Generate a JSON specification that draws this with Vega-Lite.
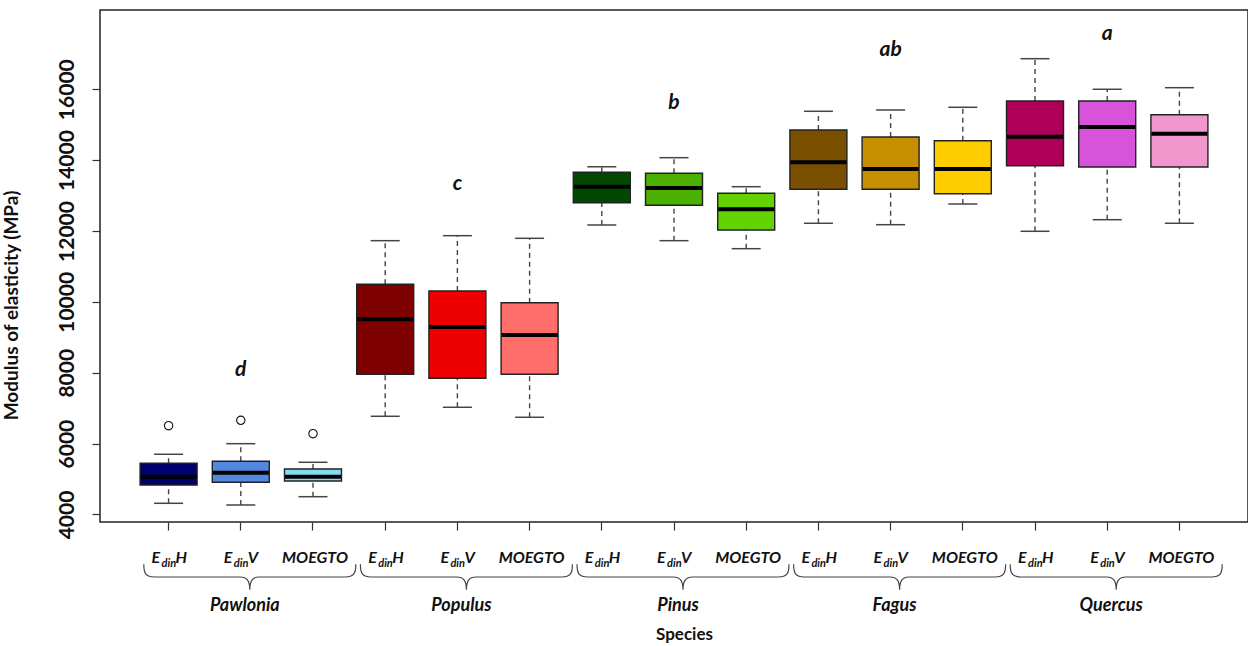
{
  "$schema": "https://vega.github.io/schema/vega-lite/v6.json",
  "width": 1148,
  "height": 512,
  "autosize": {"type": "none"},
  "padding": {"left": 100, "top": 10, "right": 0, "bottom": 124},
  "background": "white",
  "config": {
    "view": {"stroke": "#222", "strokeWidth": 1.5},
    "font": "Lato",
    "axis": {"labelFont": "Lato", "labelFontSize": 21, "labelFontWeight": "bold", "labelColor": "#111"},
    "axisY": {"labelPadding": 15, "labelFontSize": 21},
    "style": {"guide-label": {"font": "Lato", "fontSize": 21, "fontWeight": "bold", "fill": "#111"}}
  },
  "datasets": {
    "boxes": [
      {"key": "Pawlonia|EdinH", "species": "Pawlonia", "method": "EdinH", "min": 4316, "q1": 4832, "median": 5067, "q3": 5445, "max": 5699},
      {"key": "Pawlonia|EdinV", "species": "Pawlonia", "method": "EdinV", "min": 4268, "q1": 4909, "median": 5179, "q3": 5501, "max": 5998},
      {"key": "Pawlonia|MOEGTO", "species": "Pawlonia", "method": "MOEGTO", "min": 4502, "q1": 4945, "median": 5067, "q3": 5284, "max": 5473},
      {"key": "Populus|EdinH", "species": "Populus", "method": "EdinH", "min": 6771, "q1": 7956, "median": 9508, "q3": 10495, "max": 11726},
      {"key": "Populus|EdinV", "species": "Populus", "method": "EdinV", "min": 7025, "q1": 7843, "median": 9291, "q3": 10306, "max": 11867},
      {"key": "Populus|MOEGTO", "species": "Populus", "method": "MOEGTO", "min": 6743, "q1": 7956, "median": 9065, "q3": 9976, "max": 11793},
      {"key": "Pinus|EdinH", "species": "Pinus", "method": "EdinH", "min": 12169, "q1": 12798, "median": 13249, "q3": 13656, "max": 13814},
      {"key": "Pinus|EdinV", "species": "Pinus", "method": "EdinV", "min": 11726, "q1": 12725, "median": 13213, "q3": 13627, "max": 14068},
      {"key": "Pinus|MOEGTO", "species": "Pinus", "method": "MOEGTO", "min": 11500, "q1": 12028, "median": 12612, "q3": 13063, "max": 13249},
      {"key": "Fagus|EdinH", "species": "Fagus", "method": "EdinH", "min": 12217, "q1": 13176, "median": 13938, "q3": 14850, "max": 15377},
      {"key": "Fagus|EdinV", "species": "Fagus", "method": "EdinV", "min": 12177, "q1": 13176, "median": 13749, "q3": 14652, "max": 15414},
      {"key": "Fagus|MOEGTO", "species": "Fagus", "method": "MOEGTO", "min": 12761, "q1": 13052, "median": 13749, "q3": 14547, "max": 15490},
      {"key": "Quercus|EdinH", "species": "Quercus", "method": "EdinH", "min": 11991, "q1": 13842, "median": 14660, "q3": 15668, "max": 16861},
      {"key": "Quercus|EdinV", "species": "Quercus", "method": "EdinV", "min": 12318, "q1": 13805, "median": 14934, "q3": 15668, "max": 15998},
      {"key": "Quercus|MOEGTO", "species": "Quercus", "method": "MOEGTO", "min": 12217, "q1": 13805, "median": 14745, "q3": 15281, "max": 16043}
    ],
    "outliers": [
      {"key": "Pawlonia|EdinH", "value": 6506},
      {"key": "Pawlonia|EdinV", "value": 6658},
      {"key": "Pawlonia|MOEGTO", "value": 6280}
    ],
    "letters": [
      {"key": "Pawlonia|EdinV", "letter": "d", "value": 8077},
      {"key": "Populus|EdinV", "letter": "c", "value": 13325},
      {"key": "Pinus|EdinV", "letter": "b", "value": 15611},
      {"key": "Fagus|EdinV", "letter": "ab", "value": 17107},
      {"key": "Quercus|EdinV", "letter": "a", "value": 17558}
    ]
  },
  "data": {"name": "boxes"},
  "encoding": {
    "x": {
      "field": "key",
      "type": "nominal",
      "scale": {
        "type": "band",
        "domain": ["Pawlonia|EdinH", "Pawlonia|EdinV", "Pawlonia|MOEGTO", "Populus|EdinH", "Populus|EdinV", "Populus|MOEGTO", "Pinus|EdinH", "Pinus|EdinV", "Pinus|MOEGTO", "Fagus|EdinH", "Fagus|EdinV", "Fagus|MOEGTO", "Quercus|EdinH", "Quercus|EdinV", "Quercus|MOEGTO"],
        "paddingInner": 0,
        "paddingOuter": 0.45
      },
      "axis": {
        "labels": false,
        "ticks": true,
        "tickSize": 8,
        "tickWidth": 1.2,
        "tickColor": "#333",
        "domain": false,
        "grid": false,
        "title": "Species",
        "titleFont": "Lato",
        "titleFontWeight": "bold",
        "titleFontSize": 17,
        "titleColor": "#111",
        "titlePadding": 96,
        "titleX": 584
      }
    }
  },
  "layer": [
    {
      "mark": {"type": "rule", "strokeDash": [5, 4], "color": "#444", "strokeWidth": 1.4},
      "encoding": {
        "y": {"field": "q3", "type": "quantitative", "title": "Modulus of elasticity (MPa)", "scale": {"domain": [3788, 18235], "nice": false, "zero": false},
          "axis": {"values": [4000, 6000, 8000, 10000, 12000, 14000, 16000], "format": "d", "labelAngle": -90, "labelAlign": "center", "labelBaseline": "bottom", "labelFont": "Lato", "labelFontWeight": "bold", "labelFontSize": 21, "labelColor": "#111", "labelPadding": 15, "tickSize": 8, "tickWidth": 1.2, "tickColor": "#333", "domain": false, "grid": false, "titleFont": "Lato", "titleFontWeight": "bold", "titleFontSize": 19, "titleColor": "#111", "titlePadding": 35, "titleY": 295}},
        "y2": {"field": "max"}
      }
    },
    {
      "mark": {"type": "rule", "strokeDash": [5, 4], "color": "#444", "strokeWidth": 1.4},
      "encoding": {
        "y": {"field": "min", "type": "quantitative", "title": "Modulus of elasticity (MPa)", "scale": {"domain": [3788, 18235], "nice": false, "zero": false},
          "axis": {"values": [4000, 6000, 8000, 10000, 12000, 14000, 16000], "format": "d", "labelAngle": -90, "labelAlign": "center", "labelBaseline": "bottom", "labelFont": "Lato", "labelFontWeight": "bold", "labelFontSize": 21, "labelColor": "#111", "labelPadding": 15, "tickSize": 8, "tickWidth": 1.2, "tickColor": "#333", "domain": false, "grid": false, "titleFont": "Lato", "titleFontWeight": "bold", "titleFontSize": 19, "titleColor": "#111", "titlePadding": 35, "titleY": 295}},
        "y2": {"field": "q1"}
      }
    },
    {
      "mark": {"type": "tick", "size": 29, "thickness": 1.5, "color": "#444", "opacity": 1},
      "encoding": {
        "y": {"field": "max", "type": "quantitative", "title": "Modulus of elasticity (MPa)", "scale": {"domain": [3788, 18235], "nice": false, "zero": false},
          "axis": {"values": [4000, 6000, 8000, 10000, 12000, 14000, 16000], "format": "d", "labelAngle": -90, "labelAlign": "center", "labelBaseline": "bottom", "labelFont": "Lato", "labelFontWeight": "bold", "labelFontSize": 21, "labelColor": "#111", "labelPadding": 15, "tickSize": 8, "tickWidth": 1.2, "tickColor": "#333", "domain": false, "grid": false, "titleFont": "Lato", "titleFontWeight": "bold", "titleFontSize": 19, "titleColor": "#111", "titlePadding": 35, "titleY": 295}}
      }
    },
    {
      "mark": {"type": "tick", "size": 29, "thickness": 1.5, "color": "#444", "opacity": 1},
      "encoding": {
        "y": {"field": "min", "type": "quantitative", "title": "Modulus of elasticity (MPa)", "scale": {"domain": [3788, 18235], "nice": false, "zero": false},
          "axis": {"values": [4000, 6000, 8000, 10000, 12000, 14000, 16000], "format": "d", "labelAngle": -90, "labelAlign": "center", "labelBaseline": "bottom", "labelFont": "Lato", "labelFontWeight": "bold", "labelFontSize": 21, "labelColor": "#111", "labelPadding": 15, "tickSize": 8, "tickWidth": 1.2, "tickColor": "#333", "domain": false, "grid": false, "titleFont": "Lato", "titleFontWeight": "bold", "titleFontSize": 19, "titleColor": "#111", "titlePadding": 35, "titleY": 295}}
      }
    },
    {
      "mark": {"type": "bar", "width": 57, "stroke": "#222", "strokeWidth": 1.4, "opacity": 1},
      "encoding": {
        "y": {"field": "q1", "type": "quantitative", "title": "Modulus of elasticity (MPa)", "scale": {"domain": [3788, 18235], "nice": false, "zero": false},
          "axis": {"values": [4000, 6000, 8000, 10000, 12000, 14000, 16000], "format": "d", "labelAngle": -90, "labelAlign": "center", "labelBaseline": "bottom", "labelFont": "Lato", "labelFontWeight": "bold", "labelFontSize": 21, "labelColor": "#111", "labelPadding": 15, "tickSize": 8, "tickWidth": 1.2, "tickColor": "#333", "domain": false, "grid": false, "titleFont": "Lato", "titleFontWeight": "bold", "titleFontSize": 19, "titleColor": "#111", "titlePadding": 35, "titleY": 295}},
        "y2": {"field": "q3"},
        "color": {
          "field": "key", "type": "nominal", "legend": null,
          "scale": {
            "domain": ["Pawlonia|EdinH", "Pawlonia|EdinV", "Pawlonia|MOEGTO", "Populus|EdinH", "Populus|EdinV", "Populus|MOEGTO", "Pinus|EdinH", "Pinus|EdinV", "Pinus|MOEGTO", "Fagus|EdinH", "Fagus|EdinV", "Fagus|MOEGTO", "Quercus|EdinH", "Quercus|EdinV", "Quercus|MOEGTO"],
            "range": ["#00006E", "#5288E0", "#84DDF5", "#7F0000", "#EE0000", "#FF6E6B", "#004A00", "#4BB000", "#62D200", "#7A5000", "#C68E00", "#FFCC00", "#AE0058", "#D653DA", "#F197CE"]
          }
        }
      }
    },
    {
      "mark": {"type": "tick", "size": 56, "thickness": 4, "color": "#000", "opacity": 1},
      "encoding": {
        "y": {"field": "median", "type": "quantitative", "title": "Modulus of elasticity (MPa)", "scale": {"domain": [3788, 18235], "nice": false, "zero": false},
          "axis": {"values": [4000, 6000, 8000, 10000, 12000, 14000, 16000], "format": "d", "labelAngle": -90, "labelAlign": "center", "labelBaseline": "bottom", "labelFont": "Lato", "labelFontWeight": "bold", "labelFontSize": 21, "labelColor": "#111", "labelPadding": 15, "tickSize": 8, "tickWidth": 1.2, "tickColor": "#333", "domain": false, "grid": false, "titleFont": "Lato", "titleFontWeight": "bold", "titleFontSize": 19, "titleColor": "#111", "titlePadding": 35, "titleY": 295}}
      }
    },
    {
      "data": {"name": "outliers"},
      "mark": {"type": "point", "shape": "circle", "filled": false, "size": 70, "stroke": "#111", "strokeWidth": 1.1, "opacity": 1},
      "encoding": {
        "y": {"field": "value", "type": "quantitative", "title": "Modulus of elasticity (MPa)", "scale": {"domain": [3788, 18235], "nice": false, "zero": false},
          "axis": {"values": [4000, 6000, 8000, 10000, 12000, 14000, 16000], "format": "d", "labelAngle": -90, "labelAlign": "center", "labelBaseline": "bottom", "labelFont": "Lato", "labelFontWeight": "bold", "labelFontSize": 21, "labelColor": "#111", "labelPadding": 15, "tickSize": 8, "tickWidth": 1.2, "tickColor": "#333", "domain": false, "grid": false, "titleFont": "Lato", "titleFontWeight": "bold", "titleFontSize": 19, "titleColor": "#111", "titlePadding": 35, "titleY": 295}}
      }
    },
    {
      "transform": [{"filter": "datum.method !== 'MOEGTO'"}],
      "mark": {"type": "text", "text": "E", "align": "left", "baseline": "alphabetic", "dx": -17, "dy": 41, "font": "Lato", "fontSize": 16, "fontWeight": "bold", "fontStyle": "italic", "color": "#111"},
      "encoding": {"y": {"datum": 3788, "type": "quantitative", "title": "Modulus of elasticity (MPa)", "scale": {"domain": [3788, 18235], "nice": false, "zero": false},
          "axis": {"values": [4000, 6000, 8000, 10000, 12000, 14000, 16000], "format": "d", "labelAngle": -90, "labelAlign": "center", "labelBaseline": "bottom", "labelFont": "Lato", "labelFontWeight": "bold", "labelFontSize": 21, "labelColor": "#111", "labelPadding": 15, "tickSize": 8, "tickWidth": 1.2, "tickColor": "#333", "domain": false, "grid": false, "titleFont": "Lato", "titleFontWeight": "bold", "titleFontSize": 19, "titleColor": "#111", "titlePadding": 35, "titleY": 295}}}
    },
    {
      "transform": [{"filter": "datum.method !== 'MOEGTO'"}],
      "mark": {"type": "text", "text": "din", "align": "left", "baseline": "alphabetic", "dx": -7, "dy": 45, "font": "Lato", "fontSize": 11, "fontWeight": "bold", "fontStyle": "italic", "color": "#111"},
      "encoding": {"y": {"datum": 3788, "type": "quantitative", "title": "Modulus of elasticity (MPa)", "scale": {"domain": [3788, 18235], "nice": false, "zero": false},
          "axis": {"values": [4000, 6000, 8000, 10000, 12000, 14000, 16000], "format": "d", "labelAngle": -90, "labelAlign": "center", "labelBaseline": "bottom", "labelFont": "Lato", "labelFontWeight": "bold", "labelFontSize": 21, "labelColor": "#111", "labelPadding": 15, "tickSize": 8, "tickWidth": 1.2, "tickColor": "#333", "domain": false, "grid": false, "titleFont": "Lato", "titleFontWeight": "bold", "titleFontSize": 19, "titleColor": "#111", "titlePadding": 35, "titleY": 295}}}
    },
    {
      "transform": [{"filter": "datum.method === 'EdinH'"}],
      "mark": {"type": "text", "text": "H", "align": "left", "baseline": "alphabetic", "dx": 7, "dy": 41, "font": "Lato", "fontSize": 16, "fontWeight": "bold", "fontStyle": "italic", "color": "#111"},
      "encoding": {"y": {"datum": 3788, "type": "quantitative", "title": "Modulus of elasticity (MPa)", "scale": {"domain": [3788, 18235], "nice": false, "zero": false},
          "axis": {"values": [4000, 6000, 8000, 10000, 12000, 14000, 16000], "format": "d", "labelAngle": -90, "labelAlign": "center", "labelBaseline": "bottom", "labelFont": "Lato", "labelFontWeight": "bold", "labelFontSize": 21, "labelColor": "#111", "labelPadding": 15, "tickSize": 8, "tickWidth": 1.2, "tickColor": "#333", "domain": false, "grid": false, "titleFont": "Lato", "titleFontWeight": "bold", "titleFontSize": 19, "titleColor": "#111", "titlePadding": 35, "titleY": 295}}}
    },
    {
      "transform": [{"filter": "datum.method === 'EdinV'"}],
      "mark": {"type": "text", "text": "V", "align": "left", "baseline": "alphabetic", "dx": 7, "dy": 41, "font": "Lato", "fontSize": 16, "fontWeight": "bold", "fontStyle": "italic", "color": "#111"},
      "encoding": {"y": {"datum": 3788, "type": "quantitative", "title": "Modulus of elasticity (MPa)", "scale": {"domain": [3788, 18235], "nice": false, "zero": false},
          "axis": {"values": [4000, 6000, 8000, 10000, 12000, 14000, 16000], "format": "d", "labelAngle": -90, "labelAlign": "center", "labelBaseline": "bottom", "labelFont": "Lato", "labelFontWeight": "bold", "labelFontSize": 21, "labelColor": "#111", "labelPadding": 15, "tickSize": 8, "tickWidth": 1.2, "tickColor": "#333", "domain": false, "grid": false, "titleFont": "Lato", "titleFontWeight": "bold", "titleFontSize": 19, "titleColor": "#111", "titlePadding": 35, "titleY": 295}}}
    },
    {
      "transform": [{"filter": "datum.method === 'MOEGTO'"}],
      "mark": {"type": "text", "text": "MOEGTO", "align": "center", "baseline": "alphabetic", "dx": 2, "dy": 41, "font": "Lato", "fontSize": 16, "fontWeight": "bold", "fontStyle": "italic", "color": "#111"},
      "encoding": {"y": {"datum": 3788, "type": "quantitative", "title": "Modulus of elasticity (MPa)", "scale": {"domain": [3788, 18235], "nice": false, "zero": false},
          "axis": {"values": [4000, 6000, 8000, 10000, 12000, 14000, 16000], "format": "d", "labelAngle": -90, "labelAlign": "center", "labelBaseline": "bottom", "labelFont": "Lato", "labelFontWeight": "bold", "labelFontSize": 21, "labelColor": "#111", "labelPadding": 15, "tickSize": 8, "tickWidth": 1.2, "tickColor": "#333", "domain": false, "grid": false, "titleFont": "Lato", "titleFontWeight": "bold", "titleFontSize": 19, "titleColor": "#111", "titlePadding": 35, "titleY": 295}}}
    },
    {
      "transform": [{"filter": "datum.method === 'EdinV'"}],
      "mark": {"type": "point", "shape": "M-1,-0.12 C-1,-0.03 -0.98,0 -0.9,0 L-0.09,0 C-0.03,0 0,0.03 0,0.12 C0,0.03 0.03,0 0.09,0 L0.9,0 C0.98,0 1,-0.03 1,-0.12", "filled": false, "size": 44944, "stroke": "#444", "strokeWidth": 1.2, "opacity": 1, "xOffset": 9, "yOffset": 55},
      "encoding": {"y": {"datum": 3788, "type": "quantitative", "title": "Modulus of elasticity (MPa)", "scale": {"domain": [3788, 18235], "nice": false, "zero": false},
          "axis": {"values": [4000, 6000, 8000, 10000, 12000, 14000, 16000], "format": "d", "labelAngle": -90, "labelAlign": "center", "labelBaseline": "bottom", "labelFont": "Lato", "labelFontWeight": "bold", "labelFontSize": 21, "labelColor": "#111", "labelPadding": 15, "tickSize": 8, "tickWidth": 1.2, "tickColor": "#333", "domain": false, "grid": false, "titleFont": "Lato", "titleFontWeight": "bold", "titleFontSize": 19, "titleColor": "#111", "titlePadding": 35, "titleY": 295}}}
    },
    {
      "transform": [{"filter": "datum.method === 'EdinV'"}],
      "mark": {"type": "text", "align": "center", "baseline": "alphabetic", "dx": 4, "dy": 89, "font": "Lato", "fontSize": 18, "fontWeight": "bold", "fontStyle": "italic", "color": "#111"},
      "encoding": {
        "text": {"field": "species"},
        "y": {"datum": 3788, "type": "quantitative", "title": "Modulus of elasticity (MPa)", "scale": {"domain": [3788, 18235], "nice": false, "zero": false},
          "axis": {"values": [4000, 6000, 8000, 10000, 12000, 14000, 16000], "format": "d", "labelAngle": -90, "labelAlign": "center", "labelBaseline": "bottom", "labelFont": "Lato", "labelFontWeight": "bold", "labelFontSize": 21, "labelColor": "#111", "labelPadding": 15, "tickSize": 8, "tickWidth": 1.2, "tickColor": "#333", "domain": false, "grid": false, "titleFont": "Lato", "titleFontWeight": "bold", "titleFontSize": 19, "titleColor": "#111", "titlePadding": 35, "titleY": 295}}
      }
    },
    {
      "data": {"name": "letters"},
      "mark": {"type": "text", "align": "center", "baseline": "middle", "font": "Lato", "fontSize": 21, "fontWeight": "bold", "fontStyle": "italic", "color": "#111"},
      "encoding": {
        "text": {"field": "letter"},
        "y": {"field": "value", "type": "quantitative", "title": "Modulus of elasticity (MPa)", "scale": {"domain": [3788, 18235], "nice": false, "zero": false},
          "axis": {"values": [4000, 6000, 8000, 10000, 12000, 14000, 16000], "format": "d", "labelAngle": -90, "labelAlign": "center", "labelBaseline": "bottom", "labelFont": "Lato", "labelFontWeight": "bold", "labelFontSize": 21, "labelColor": "#111", "labelPadding": 15, "tickSize": 8, "tickWidth": 1.2, "tickColor": "#333", "domain": false, "grid": false, "titleFont": "Lato", "titleFontWeight": "bold", "titleFontSize": 19, "titleColor": "#111", "titlePadding": 35, "titleY": 295}}
      }
    }
  ]
}
